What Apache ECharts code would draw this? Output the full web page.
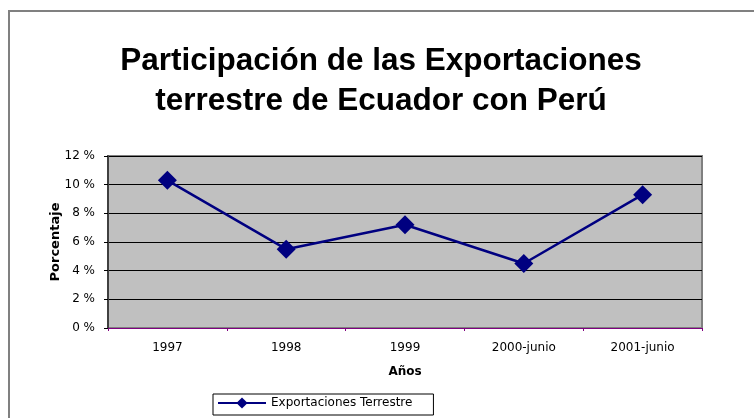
<!DOCTYPE html>
<html>
<head>
<meta charset="utf-8">
<script src="https://cdn.jsdelivr.net/npm/echarts@6/dist/echarts.min.js"></script>
<style>html,body{margin:0;padding:0;background:#fff;}#c{width:754px;height:418px;}</style>
</head>
<body>
<div id="c"></div>
<script>
var categories = ['1997', '1998', '1999', '2000-junio', '2001-junio'];
var values = [10.3, 5.5, 7.2, 4.5, 9.3];
var yTicks = [0, 2, 4, 6, 8, 10, 12];
var seriesName = 'Exportaciones Terrestre';
var titleText = 'Participación de las Exportaciones\nterrestre de Ecuador con Perú';

var chart = echarts.init(document.getElementById('c'), null, {renderer: 'canvas'});
var font = '"Liberation Sans", Arial, sans-serif';
var small = '"DejaVu Sans", Verdana, sans-serif';
chart.setOption({
  animation: false,
  backgroundColor: '#fff',
  graphic: [{
    type: 'rect', shape: {x: 9, y: 11, width: 800, height: 500},
    style: {fill: 'none', stroke: '#808080', lineWidth: 2}, z: -1
  }],
  title: {
    text: titleText, left: 381, top: 41, padding: 0, textAlign: 'center',
    textStyle: {fontFamily: font, fontSize: 31.5, fontWeight: 'bold', color: '#000', lineHeight: 40}
  },
  legend: {
    data: [seriesName], left: 213, top: 394, padding: [3, 21, 6, 4],
    itemWidth: 48, itemHeight: 14, itemGap: 2,
    borderColor: '#000', borderWidth: 1, borderRadius: 0,
    textStyle: {fontFamily: small, fontSize: 12, color: '#000'}
  },
  grid: {
    left: 108, top: 156, width: 594, height: 172, show: true,
    backgroundColor: '#C0C0C0', borderColor: '#808080', borderWidth: 2
  },
  xAxis: {
    type: 'category', data: categories, boundaryGap: true,
    name: 'Años', nameLocation: 'middle', nameGap: 38, nameMoveOverlap: false,
    nameTextStyle: {fontFamily: small, fontSize: 12, fontWeight: 'bold', color: '#000'},
    axisLine: {lineStyle: {color: '#800080', width: 1}},
    axisTick: {show: true, length: 3, lineStyle: {color: '#800080'}},
    axisLabel: {fontFamily: small, fontSize: 12, color: '#000', margin: 14}
  },
  yAxis: {
    type: 'value', min: yTicks[0], max: yTicks[yTicks.length - 1], interval: 2,
    name: 'Porcentaje', nameLocation: 'middle', nameGap: 46, nameMoveOverlap: false,
    nameTextStyle: {fontFamily: small, fontSize: 13, fontWeight: 'bold', color: '#000'},
    axisLine: {show: true, lineStyle: {color: '#404040', width: 2}},
    axisTick: {show: true, length: 4, lineStyle: {color: '#000'}},
    axisLabel: {fontFamily: small, fontSize: 12, color: '#000', margin: 13, formatter: function (v) { return v + ' %'; }},
    splitLine: {show: true, lineStyle: {color: '#000', width: 1}}
  },
  series: [{
    name: seriesName, type: 'line', data: values,
    symbol: 'diamond', symbolSize: 19,
    lineStyle: {color: '#000080', width: 2.5},
    itemStyle: {color: '#000080'}
  }]
});
</script>
</body>
</html>
